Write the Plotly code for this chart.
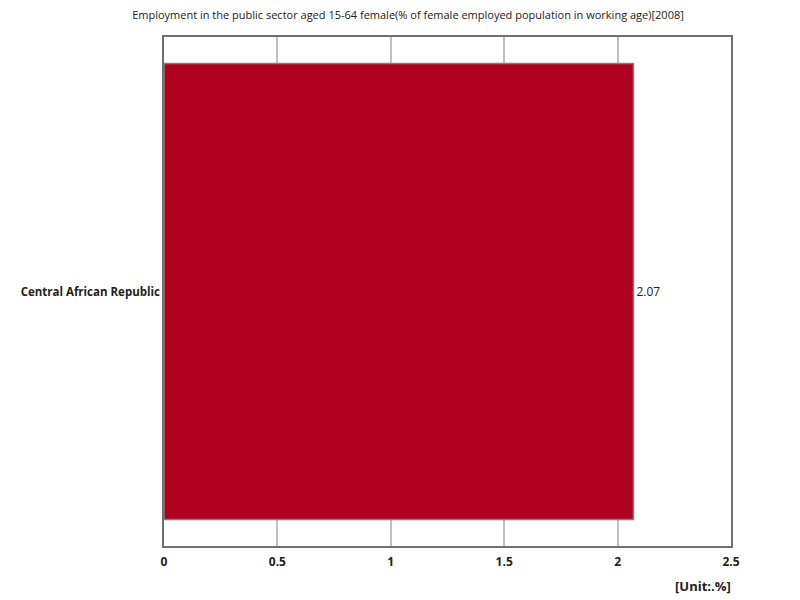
import plotly.graph_objects as go

# data
countries = ["Central African Republic"]
values = [2.07]
x_ticks = [0, 0.5, 1, 1.5, 2, 2.5]

title_text = "Employment in the public sector aged 15-64 female(% of female employed population in working age)[2008]"

fig = go.Figure(go.Bar(
    x=values,
    y=countries,
    orientation="h",
    marker=dict(color="#B00020", line=dict(color="#808080", width=1.5)),
    text=[f"{v:.2f}" for v in values],
    textposition="outside",
    textfont=dict(size=12, color="#222222"),
    cliponaxis=False,
))

# page body adds ~8px offset, so margins are shifted to compensate
fig.update_layout(
    width=800, height=600,
    margin=dict(l=156, r=77, t=29, b=62),
    paper_bgcolor="white",
    plot_bgcolor="white",
    font=dict(family="Open Sans, Noto Sans, sans-serif", color="#222222"),
    title=dict(text=title_text, x=0.5, xanchor="center", y=0.995, yanchor="top",
               font=dict(size=11, color="#222222")),
    bargap=0.104,
    showlegend=False,
)

fig.update_xaxes(
    range=[0, 2.5],
    tickvals=x_ticks,
    ticktext=[str(t) for t in x_ticks],
    showgrid=True, gridcolor="#c0c0c0", gridwidth=1.5,
    showline=True, linecolor="#707070", linewidth=1.5, mirror=True,
    zeroline=False,
    ticks="", ticklabelstandoff=4,
    tickfont=dict(size=12, weight="bold"),
    automargin=False,
)

fig.update_yaxes(
    showline=True, linecolor="#707070", linewidth=1.5, mirror=True,
    ticks="", ticklabelstandoff=0,
    tickfont=dict(size=11.5, weight="bold"),
    automargin=False,
)

fig.add_annotation(
    text="[Unit:.%]", xref="paper", yref="paper", x=1.003, y=-0.056,
    xanchor="right", yanchor="top", showarrow=False,
    font=dict(size=13, weight="bold", color="#222222"),
)

fig.write_html("out.html")
